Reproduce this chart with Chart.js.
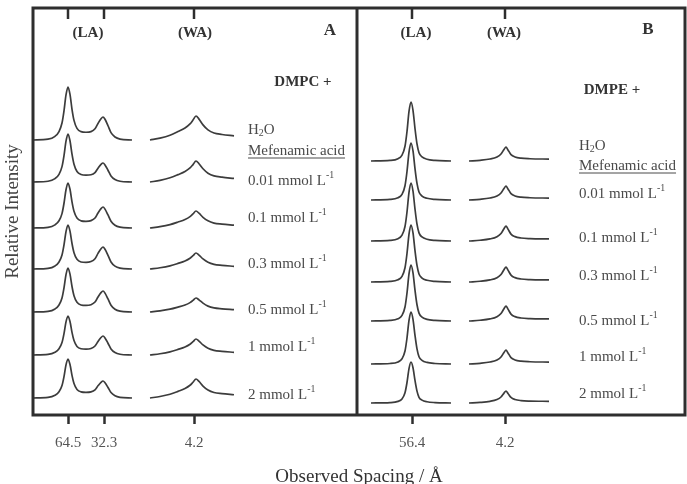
<!DOCTYPE html>
<html>
<head>
<meta charset="utf-8">
<script src="https://cdn.jsdelivr.net/npm/chart.js@4.4.1/dist/chart.umd.min.js"></script>
<style>
  html, body { margin: 0; padding: 0; background: #fff; }
  #wrap { width: 687px; height: 484px; }
</style>
</head>
<body>
<div id="wrap"><canvas id="xrd"></canvas></div>
<script>
// Concentrations of mefenamic acid, top to bottom (first trace is pure water)
const concs = ['0.01', '0.1', '0.3', '0.5', '1', '2']

// Broken spacing axis -> positions are channel units, labels are the spacings in Å
const tickPosA = [35, 71, 161]
const tickLabA = ['64.5', '32.3', '4.2']
const tickPosB = [379, 472]
const tickLabB = ['56.4', '4.2']
const panelSplit = 324

// Panel A (DMPC): trace offsets and peak heights, top trace first
const baseA = [275, 233, 187, 146, 103, 60, 17]
const laA1 = [53, 48, 45, 44, 44, 39, 39]
const laA2 = [23, 19, 21, 22, 21, 19, 17]
const waA = [24, 21, 17, 16, 14, 16, 19]

// Panel B (DMPE)
const baseB = [254, 215, 174, 133, 94, 51, 12]
const laB = [59, 57, 58, 57, 56, 52, 41]
const waB = [14, 14, 15, 15, 15, 14, 12]

// Peak profiles, 1 = top of the peak
const profAx = [0, 15, 22, 26, 29, 31, 33, 35, 37, 39, 41, 44, 48, 53, 58, 62, 65, 68, 70, 72, 75, 78, 82, 87, 99]
const profA1 = [0, 0.015, 0.07, 0.16, 0.32, 0.55, 0.85, 1, 0.86, 0.58, 0.37, 0.22, 0.15, 0.12, 0.08, 0.05, 0.03, 0.01, 0, 0, 0, 0, 0, 0, 0]
const profA2 = [0, 0, 0, 0, 0, 0, 0, 0, 0, 0, 0, 0, 0.02, 0.06, 0.18, 0.37, 0.65, 0.9, 1, 0.9, 0.62, 0.32, 0.13, 0.04, 0]
const profAwx = [117, 127, 137, 145, 152, 157, 160, 163, 166, 170, 175, 181, 189, 201]
const profAw = [0, 0.08, 0.2, 0.35, 0.5, 0.67, 0.83, 1, 0.87, 0.63, 0.42, 0.29, 0.23, 0.17]
const profBx = [338, 357, 365, 369, 372, 374, 376, 378, 380, 382, 384, 386, 389, 394, 402, 418]
const profB = [0, 0.01, 0.04, 0.1, 0.25, 0.5, 0.84, 1, 0.86, 0.55, 0.29, 0.14, 0.07, 0.03, 0.01, 0]
const profBwx = [436, 447, 457, 464, 468, 471, 473, 475, 478, 482, 488, 497, 516]
const profBw = [0, 0.05, 0.14, 0.29, 0.5, 0.82, 1, 0.79, 0.46, 0.29, 0.2, 0.16, 0.14]

const SERIF = '"Liberation Serif", "Times New Roman", serif'
const LINE = '#3c3c3c'

function traceA (i) {
  const la = profAx.map((x, k) => ({ x, y: baseA[i] + laA1[i] * profA1[k] + laA2[i] * profA2[k] }))
  const wa = profAwx.map((x, k) => ({ x, y: baseA[i] + waA[i] * profAw[k] }))
  return [...la, { x: 108, y: null }, ...wa]
}

function traceB (i) {
  const la = profBx.map((x, k) => ({ x, y: baseB[i] + laB[i] * profB[k] }))
  const wa = profBwx.map((x, k) => ({ x, y: baseB[i] + waB[i] * profBw[k] }))
  return [...la, { x: 427, y: null }, ...wa]
}

const datasets = []
baseA.forEach((b, i) => datasets.push({ data: traceA(i) }))
baseB.forEach((b, i) => datasets.push({ data: traceB(i) }))

const allTicks = [...tickPosA, ...tickPosB]
const allTickLabels = [...tickLabA, ...tickLabB]

// draw text with sub/superscript parts
function drawRich (ctx, parts, x, y, size) {
  let cx = x
  parts.forEach(p => {
    const s = p.sup || p.sub ? size * 0.66 : size
    ctx.font = `${s}px ${SERIF}`
    const dy = p.sup ? -size * 0.36 : p.sub ? size * 0.22 : 0
    ctx.fillText(p.t, cx, y + dy)
    cx += ctx.measureText(p.t).width
  })
  return cx - x
}

// Text in each panel (positions in data units)
const panelText = [
  { x: 215, ys: [285, 264, 234, 197, 151, 105, 68, 20], head: [[55, 382, '(LA)'], [162, 382, '(WA)']], letter: [297, 384, 'A'], lipid: [270, 333, 'DMPC +'] },
  { x: 546, ys: [269, 249, 221, 177, 139, 94, 58, 21], head: [[383, 382, '(LA)'], [471, 382, '(WA)']], letter: [615, 385, 'B'], lipid: [579, 325, 'DMPE +'] }
]

const framePlugin = {
  id: 'frame',
  afterDatasetsDraw (chart) {
    const { ctx, chartArea: { left, right, top, bottom }, scales: { x, y } } = chart
    ctx.save()
    ctx.strokeStyle = '#2e2e2e'
    ctx.lineWidth = 3
    ctx.strokeRect(left, top, right - left, bottom - top)
    const xs = x.getPixelForValue(panelSplit)
    ctx.beginPath()
    ctx.moveTo(xs, top)
    ctx.lineTo(xs, bottom)
    ctx.stroke()

    // inward tick marks along the top
    ctx.lineWidth = 2.5
    allTicks.forEach(v => {
      const px = x.getPixelForValue(v)
      ctx.beginPath()
      ctx.moveTo(px, top)
      ctx.lineTo(px, top + 11)
      ctx.stroke()
    })

    ctx.textBaseline = 'middle'
    panelText.forEach(p => {
      ctx.fillStyle = '#333'
      ctx.textAlign = 'center'
      ctx.font = `bold 15px ${SERIF}`
      p.head.forEach(h => ctx.fillText(h[2], x.getPixelForValue(h[0]), y.getPixelForValue(h[1])))
      ctx.fillText(p.lipid[2], x.getPixelForValue(p.lipid[0]), y.getPixelForValue(p.lipid[1]))
      ctx.font = `bold 17px ${SERIF}`
      ctx.fillText(p.letter[2], x.getPixelForValue(p.letter[0]), y.getPixelForValue(p.letter[1]))

      ctx.textAlign = 'left'
      ctx.fillStyle = '#4a4a4a'
      const lx = x.getPixelForValue(p.x)
      drawRich(ctx, [{ t: 'H' }, { t: '2', sub: true }, { t: 'O' }], lx, y.getPixelForValue(p.ys[0]), 15)
      const my = y.getPixelForValue(p.ys[1])
      const w = drawRich(ctx, [{ t: 'Mefenamic acid' }], lx, my, 15)
      ctx.strokeStyle = '#4a4a4a'
      ctx.lineWidth = 1
      ctx.beginPath()
      ctx.moveTo(lx, my + 7)
      ctx.lineTo(lx + w, my + 7)
      ctx.stroke()
      concs.forEach((c, i) => {
        drawRich(ctx, [{ t: `${c} mmol L` }, { t: '-1', sup: true }], lx, y.getPixelForValue(p.ys[i + 2]), 15)
      })
    })
    ctx.restore()
  }
}

new Chart(document.getElementById('xrd'), {
  type: 'line',
  data: { datasets },
  plugins: [framePlugin],
  options: {
    responsive: true,
    maintainAspectRatio: false,
    animation: false,
    devicePixelRatio: 1,
    layout: { padding: { top: 8, right: 2, left: 0, bottom: 0 } },
    elements: {
      point: { radius: 0 },
      line: { borderColor: LINE, borderWidth: 1.7, cubicInterpolationMode: 'monotone', fill: false }
    },
    plugins: { legend: { display: false }, tooltip: { enabled: false } },
    scales: {
      x: {
        type: 'linear',
        min: 0,
        max: 652,
        afterBuildTicks (scale) {
          scale.ticks = allTicks.map(v => ({ value: v }))
        },
        afterFit (scale) {
          scale.height = 69
        },
        border: { display: false },
        grid: { drawOnChartArea: false, drawTicks: true, tickLength: 9, tickWidth: 2.5, tickColor: '#2e2e2e' },
        ticks: {
          autoSkip: false,
          maxRotation: 0,
          padding: 10,
          color: '#555',
          font: { family: SERIF, size: 15 },
          callback: (v, i) => allTickLabels[i]
        },
        title: {
          display: true,
          text: 'Observed Spacing / Å',
          color: '#333',
          font: { family: SERIF, size: 19 },
          padding: { top: 0, bottom: -4 }
        }
      },
      y: {
        type: 'linear',
        min: 0,
        max: 407,
        afterFit (scale) {
          scale.width = 33
        },
        border: { display: false },
        grid: { display: false },
        ticks: { display: false },
        title: {
          display: true,
          text: 'Relative Intensity',
          color: '#444',
          font: { family: SERIF, size: 19 },
          padding: { top: 2, bottom: 0 }
        }
      }
    }
  }
})
</script>
</body>
</html>
